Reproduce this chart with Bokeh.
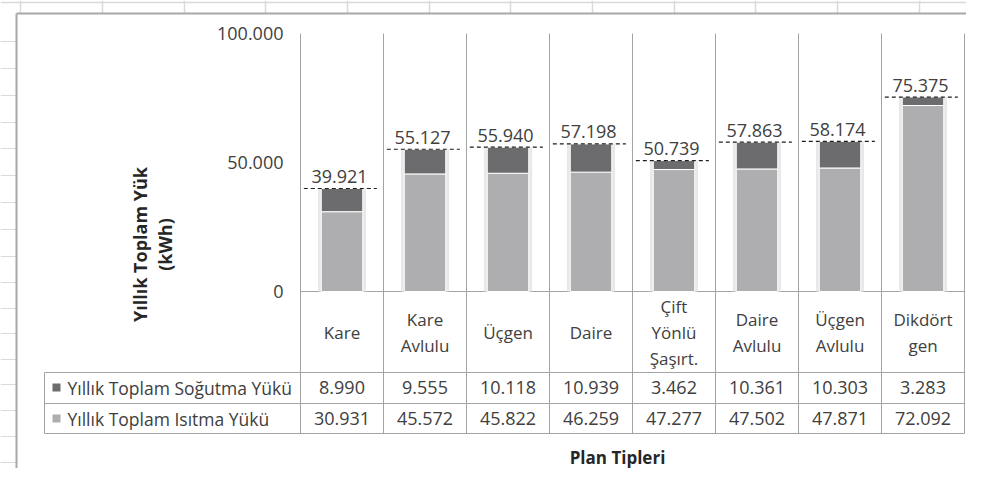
import numpy as np
from bokeh.plotting import figure
from bokeh.models import Range1d, ColumnDataSource
from bokeh.core.properties import value
from bokeh.embed import file_html
from bokeh.resources import INLINE

# ---------------- data ----------------
categories = ["Kare", "Kare\nAvlulu", "Üçgen", "Daire", "Çift\nYönlü\nŞaşırt.",
              "Daire\nAvlulu", "Üçgen\nAvlulu", "Dikdört\ngen"]
cooling = [8990, 9555, 10118, 10939, 3462, 10361, 10303, 3283]
heating = [30931, 45572, 45822, 46259, 47277, 47502, 47871, 72092]
series_names = ["Yıllık Toplam Soğutma Yükü", "Yıllık Toplam Isıtma Yükü"]
y_ticks = [0, 50000, 100000]
y_title = ["Yıllık Toplam Yük", "(kWh)"]
x_title = "Plan Tipleri"

# ---------------- styles ----------------
FONT = value("Open Sans")
TXT = "#404040"
GRID = "#a3a3a3"
C_COOL = "#6c6c6e"
C_HEAT = "#aeaeb1"

def fmt(v):
    return f"{v:,}".replace(",", ".")

# ---------------- layout (pixel constants) ----------------
W, H = 966, 468
PLOT_L, COL_W = 300, 83          # left edge of plot area, column width
Y0_PX, PX_100K = 291, 258        # pixel row of 0 and pixels per 100.000

def X(px):
    return (px - PLOT_L) / COL_W

def Y(py):
    return (Y0_PX - py) * y_ticks[-1] / PX_100K

n = len(categories)
xs = np.arange(n) + 0.5
totals = [c + h for c, h in zip(cooling, heating)]

p = figure(width=W, height=H, output_backend="svg", toolbar_location=None,
           x_range=Range1d(X(0), X(W)), y_range=Range1d(Y(H), Y(0)),
           x_axis_type=None, y_axis_type=None, min_border=0)
p.grid.visible = False
p.outline_line_color = None
p.background_fill_color = "white"
p.border_fill_color = "white"

# spreadsheet background hints
sheet_cols = [20, 102, 184, 265, 347, 429, 510, 592, 674, 755, 837, 919]
p.segment(x0=[X(c) for c in sheet_cols], x1=[X(c) for c in sheet_cols],
          y0=Y(0), y1=Y(13), line_color="#dadada", line_width=1.5)
p.segment(x0=X(0), x1=X(W), y0=Y(2), y1=Y(2), line_color="#dadada", line_width=1.5)
sheet_rows = [41, 68, 95, 122, 148, 175, 202, 229, 256, 282, 308, 333, 359, 384, 410, 436, 462]
p.segment(x0=X(0), x1=X(16), y0=[Y(r) for r in sheet_rows], y1=[Y(r) for r in sheet_rows],
          line_color="#dadada", line_width=1)

# chart outer border
p.segment(x0=[X(16), X(16)], x1=[X(16), X(W + 10)], y0=[Y(13), Y(13)], y1=[Y(H + 10), Y(13)],
          line_color="#a8a8a8", line_width=2)

# grid / table lines
top = y_ticks[-1]
tbl_rows = [372, 403, 433]
p.segment(x0=list(range(n + 1)), x1=list(range(n + 1)), y0=Y(433), y1=top,
          line_color=GRID, line_width=1)
p.segment(x0=0, x1=n, y0=0, y1=0, line_color=GRID, line_width=1)
p.segment(x0=X(44), x1=n, y0=[Y(r) for r in tbl_rows], y1=[Y(r) for r in tbl_rows],
          line_color=GRID, line_width=1)
p.segment(x0=X(44), x1=X(44), y0=Y(372), y1=Y(433), line_color=GRID, line_width=1)

# bars
src = ColumnDataSource(dict(x=xs, heat=heating, cool=cooling, total=totals,
                            x0=xs - 0.46, x1=xs + 0.42, lx=xs - 0.03,
                            label=[fmt(t) for t in totals]))
p.vbar(x="x", width=0.58, top="total", bottom=0, source=src,
       fill_color="#e8e8e8", line_color=None)
p.vbar(x="x", width=0.50, top="heat", bottom=0, source=src,
       fill_color=C_HEAT, line_color="white", line_width=1)
p.vbar(x="x", width=0.50, top="total", bottom="heat", source=src,
       fill_color=C_COOL, line_color="white", line_width=1)

# dashed total line + labels
p.segment(x0="x0", x1="x1", y0="total", y1="total", source=src,
          line_color="#1e1e1e", line_width=1.2, line_dash="4 3")
p.text(x="lx", y="total", text="label", source=src, text_align="center",
       text_baseline="alphabetic", y_offset=-12, text_font=FONT, text_font_size="18px",
       text_color=TXT)

# y tick labels
p.text(x=X(283), y=y_ticks, text=[fmt(t) for t in y_ticks], text_align="right",
       text_baseline="middle", text_font=FONT, text_font_size="18px", text_color=TXT)

# y title
p.text(x=[X(139), X(164)], y=Y(244), text=y_title, angle=np.pi / 2,
       text_align="center", text_baseline="middle", text_font=FONT,
       text_font_size="18px", text_font_style="bold", text_color="#262626")

# category labels (table header row)
cx, cy, ct = [], [], []
LH = 26
for i, c in enumerate(categories):
    lines = c.split("\n")
    for j, ln in enumerate(lines):
        cx.append(xs[i])
        cy.append(Y(332 + (j - (len(lines) - 1) / 2) * LH))
        ct.append(ln)
p.text(x=cx, y=cy, text=ct, text_align="center", text_baseline="middle",
       text_font=FONT, text_font_size="17px", text_color=TXT)

# data table rows
row_y = [Y(387), Y(418)]
for vals, ry, col, name in zip([cooling, heating], row_y, [C_COOL, C_HEAT], series_names):
    p.text(x=xs, y=ry, text=[fmt(v) for v in vals], text_align="center",
           text_baseline="middle", text_font=FONT, text_font_size="18px", text_color=TXT)
    p.scatter(x=X(56), y=ry, marker="square", size=8, fill_color=col, line_color=None)
    p.text(x=X(67), y=ry, text=[name], text_align="left", text_baseline="middle",
           text_font=FONT, text_font_size="17.5px", text_color=TXT)

# x title
p.text(x=X(617), y=Y(457), text=[x_title], text_align="center", text_baseline="middle",
       text_font=FONT, text_font_size="17px", text_font_style="bold", text_color="#262626")

open("out.html", "w").write(file_html(p, INLINE))
